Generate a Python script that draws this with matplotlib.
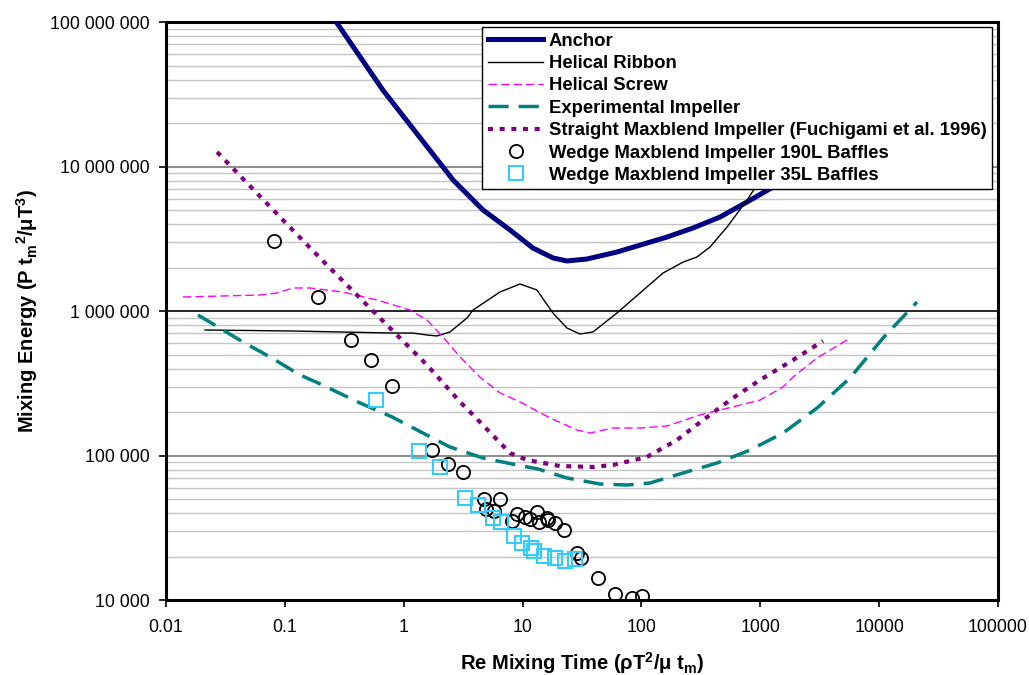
import matplotlib.pyplot as plt
import matplotlib.ticker as mticker
import numpy as np

plt.rcParams['font.family'] = ['Liberation Sans', 'DejaVu Sans']
plt.rcParams['mathtext.fontset'] = 'custom'
plt.rcParams['mathtext.rm'] = 'Liberation Sans:bold'
plt.rcParams['mathtext.it'] = 'Liberation Sans:bold'
plt.rcParams['mathtext.bf'] = 'Liberation Sans:bold'

## curves (Re mixing time, mixing energy)
anchorX = [0.25, 0.668, 2.14, 2.60, 4.65, 7.83, 12.2, 18.0, 23.6, 34.8, 62.3, 164, 271, 458, 773, 1280, 2157]
anchorY = [1.1e8, 3.38e7, 9.92e6, 8.07e6, 5.0e6, 3.64e6, 2.73e6, 2.33e6, 2.22e6, 2.29e6, 2.56e6, 3.25e6,
           3.75e6, 4.47e6, 5.68e6, 7.21e6, 9.2e6]

ribbonX = [0.0213, 0.117, 0.812, 1.197, 1.57, 1.906, 2.45, 3.41, 3.83, 6.46, 9.51, 13.2, 18.0, 23.6, 30.4,
           39.1, 62.3, 97.2, 152, 224, 293, 377, 525, 773, 938, 1330]
ribbonY = [7.39e5, 7.27e5, 7.04e5, 7.04e5, 6.82e5, 6.72e5, 7.16e5, 8.95e5, 1.016e6, 1.354e6, 1.538e6, 1.398e6,
           9.69e5, 7.63e5, 6.93e5, 7.16e5, 9.69e5, 1.332e6, 1.832e6, 2.18e6, 2.364e6, 2.77e6, 3.81e6, 5.86e6,
           7.45e6, 1.109e7]

screwX = [0.0139, 0.0618, 0.0859, 0.117, 0.163, 0.308, 0.596, 1.129, 1.57, 2.14, 2.98, 4.38, 6.46, 9.51, 17.0,
          28.7, 36.9, 57.6, 97.2, 164, 311, 589, 995, 1552, 1884, 3000, 5364]
screwY = [1.25e6, 1.29e6, 1.332e6, 1.443e6, 1.443e6, 1.354e6, 1.192e6, 1.016e6, 8.66e5, 6.61e5, 4.81e5, 3.49e5,
          2.71e5, 2.35e5, 1.82e5, 1.50e5, 1.43e5, 1.55e5, 1.55e5, 1.60e5, 1.91e5, 2.17e5, 2.42e5, 2.98e5,
          3.49e5, 4.73e5, 6.30e5]

expX = [0.0186, 0.0445, 0.075, 0.134, 0.190, 0.429, 0.797, 1.453, 2.45, 4.65, 8.96, 13.5, 23.6, 44.8, 75.6,
        118, 224, 432, 819, 1552, 3000, 5683, 10770, 20810]
expY = [9.38e5, 6.10e5, 4.81e5, 3.61e5, 3.18e5, 2.31e5, 1.85e5, 1.43e5, 1.145e5, 9.61e4, 8.60e4, 8.07e4,
        6.99e4, 6.35e4, 6.25e4, 6.45e4, 7.57e4, 8.87e4, 1.09e5, 1.43e5, 2.13e5, 3.44e5, 6.50e5, 1.154e6]

straightX = [0.0269, 0.110, 0.226, 0.596, 1.57, 2.98, 3.83, 7.84, 10.9, 20.6, 39.1, 57.6, 111, 199, 330, 589,
             995, 1884, 3370]
straightY = [1.26e7, 3.81e6, 2.08e6, 9.38e5, 4.23e5, 2.35e5, 1.91e5, 1.04e5, 9.31e4, 8.46e4, 8.33e4, 8.60e4,
             9.76e4, 1.28e5, 1.76e5, 2.50e5, 3.33e5, 4.58e5, 6.20e5]

## measured points
w190X = [0.0810, 0.190, 0.360, 0.531, 0.797, 1.73, 2.36, 3.15, 4.74, 6.46, 4.92, 5.75, 8.96, 8.15, 10.5, 11.5,
         13.2, 13.7, 16.1, 16.4, 18.7, 22.3, 28.7, 31.0, 43.1, 59.9, 83.3, 101]
w190Y = [3.05e6, 1.25e6, 6.30e5, 4.58e5, 3.03e5, 1.09e5, 8.73e4, 7.69e4, 5.00e4, 5.00e4, 4.26e4, 4.13e4,
         3.94e4, 3.52e4, 3.75e4, 3.64e4, 4.06e4, 3.47e4, 3.69e4, 3.58e4, 3.41e4, 3.05e4, 2.12e4, 1.95e4,
         1.42e4, 1.10e4, 1.03e4, 1.07e4]

w35X = [0.585, 1.345, 2.02, 3.28, 4.22, 5.64, 6.58, 8.47, 9.89, 11.8, 12.5, 15.1, 18.7, 22.7, 27.6]
w35Y = [2.42e5, 1.07e5, 8.33e4, 5.08e4, 4.54e4, 3.69e4, 3.47e4, 2.77e4, 2.48e4, 2.29e4, 2.18e4, 2.02e4,
        1.95e4, 1.86e4, 1.92e4]

xTicks = [0.01, 0.1, 1, 10, 100, 1000, 10000, 100000]
xTickLabels = ['0.01', '0.1', '1', '10', '100', '1000', '10000', '100000']
yTicks = [1e4, 1e5, 1e6, 1e7, 1e8]


def spaced(v, pos):
    return '{:,}'.format(int(round(v))).replace(',', ' ')


fig = plt.figure(figsize=(10.29, 6.75), dpi=100)
ax = fig.add_axes([0.1613, 0.1111, 0.8086, 0.8563])

ax.plot(anchorX, anchorY, color='#000080', lw=3.6, label='Anchor', zorder=3)
ax.plot(ribbonX, ribbonY, color='black', lw=1.0, label='Helical Ribbon', zorder=3)
ax.plot(screwX, screwY, color='#FF00FF', lw=1.0, ls=(0, (6, 3)), label='Helical Screw', zorder=3)
ax.plot(expX, expY, color='#008080', lw=2.5, ls=(0, (5.8, 2.9)), dash_capstyle='butt',
        label='Experimental Impeller', zorder=3)
ax.plot(straightX, straightY, color='#800080', lw=3.0, ls=(0, (1.2, 1.6)), dash_capstyle='butt',
        label='Straight Maxblend Impeller (Fuchigami et al. 1996)', zorder=3)
ax.plot(w190X, w190Y, ls='none', marker='o', ms=9.5, mfc='none', mec='black', mew=1.3,
        label='Wedge Maxblend Impeller 190L Baffles', zorder=4)
ax.plot(w35X, w35Y, ls='none', marker='s', ms=9.5, mfc='none', mec='#33CCFF', mew=1.5,
        label='Wedge Maxblend Impeller 35L Baffles', zorder=4)

ax.set_xscale('log')
ax.set_yscale('log')
ax.set_xlim(0.01, 100000)
ax.set_ylim(1e4, 1e8)

ax.xaxis.set_major_locator(mticker.FixedLocator(xTicks))
ax.xaxis.set_major_formatter(mticker.FixedFormatter(xTickLabels))
ax.xaxis.set_minor_locator(mticker.NullLocator())
ax.yaxis.set_major_locator(mticker.FixedLocator(yTicks))
ax.yaxis.set_major_formatter(mticker.FuncFormatter(spaced))
ax.yaxis.set_minor_locator(mticker.LogLocator(base=10, subs=np.arange(2, 10)))
ax.yaxis.set_minor_formatter(mticker.NullFormatter())
ax.tick_params(axis='both', which='major', direction='out', length=5, width=1.2, labelsize=12.8)
ax.tick_params(axis='x', which='major', pad=9)
ax.tick_params(axis='y', which='major', pad=7)
ax.tick_params(axis='y', which='minor', length=0)

ax.grid(axis='y', which='minor', color='#c4c4c4', lw=1.0)
ax.grid(axis='y', which='major', color='#7a7a7a', lw=1.2)
for gl, tv in zip(ax.get_ygridlines(), yTicks):
    if tv == 1e6:
        gl.set_color('black')
ax.set_axisbelow(True)

for sp in ax.spines.values():
    sp.set_linewidth(2.2)

ax.set_xlabel(r'Re Mixing Time ($\rho$T$^2$/$\mu$ t$_m$)', fontsize=14.5, fontweight='bold')
ax.set_ylabel(r'Mixing Energy (P t$_m$$^2$/$\mu$T$^3$)', fontsize=14.5, fontweight='bold')
ax.xaxis.set_label_coords(0.5, -0.087)
ax.yaxis.set_label_coords(-0.151, 0.5)

leg = ax.legend(loc='upper right', bbox_to_anchor=(0.993, 0.991), borderaxespad=0, fancybox=False,
                framealpha=1, edgecolor='black', prop={'size': 13.3, 'weight': 'bold'},
                handlelength=3.0, handletextpad=0.3, labelspacing=0.29, borderpad=0.3)
leg.get_frame().set_linewidth(1.0)

fig.savefig('out.png', dpi=100)
